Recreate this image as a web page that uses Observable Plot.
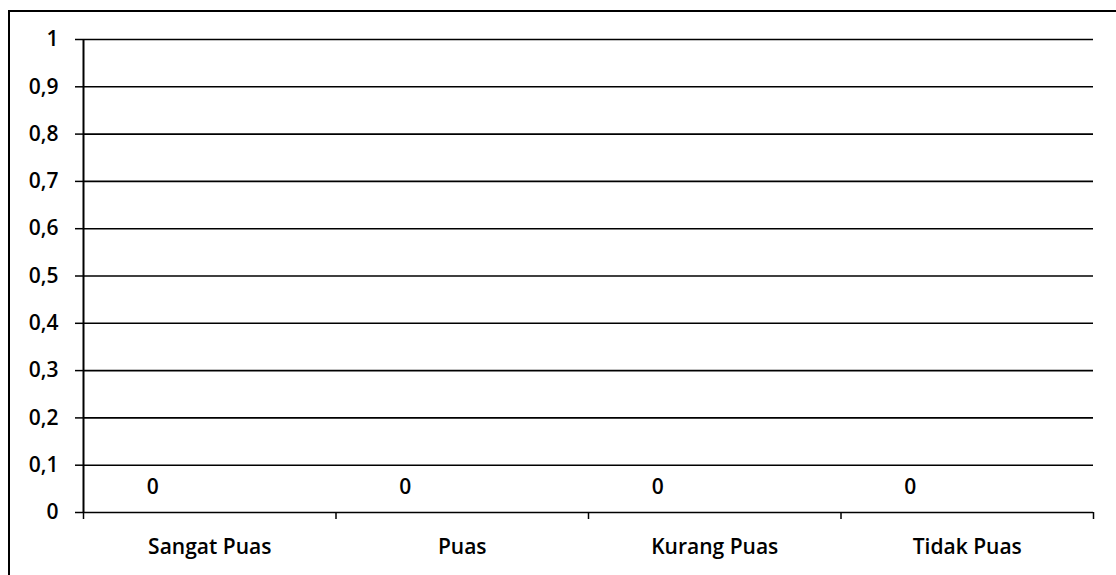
<!DOCTYPE html>
<html>
<head>
<meta charset="utf-8">
<script src="https://cdn.jsdelivr.net/npm/d3@7"></script>
<script src="https://cdn.jsdelivr.net/npm/@observablehq/plot@0.6"></script>
<style>
  html, body { margin: 0; padding: 0; background: #fff; overflow: hidden; }
  #wrap { position: relative; width: 1116px; height: 575px; }
  #border { position: absolute; left: 8px; top: 10px; width: 1130px; height: 600px;
            border: 2px solid #000; box-sizing: border-box; pointer-events: none; }
</style>
</head>
<body>
<div id="wrap"><div id="border"></div></div>
<script>
const categories = ["Sangat Puas", "Puas", "Kurang Puas", "Tidak Puas"];
const values = [0, 0, 0, 0];
const yTicks = [0, 0.1, 0.2, 0.3, 0.4, 0.5, 0.6, 0.7, 0.8, 0.9, 1];

const data = categories.map((c, i) => ({ category: c, pos: i + 0.5, value: values[i] }));
const boundaries = d3.range(categories.length + 1);
const fmt = d => String(+d.toFixed(1)).replace(".", ",");

const font = "'Open Sans', sans-serif";

const chart = Plot.plot({
  width: 1116,
  height: 575,
  marginLeft: 83,
  marginRight: 23,
  marginTop: 39,
  marginBottom: 63,
  style: { fontFamily: font, fontSize: "21px", color: "#000", background: "transparent" },
  x: { type: "linear", domain: [0, categories.length] },
  y: { domain: [0, 1] },
  marks: [
    Plot.ruleY(yTicks, { stroke: "#000", strokeWidth: 1.6 }),
    Plot.ruleX([0], { stroke: "#000", strokeWidth: 2 }),
    Plot.rectY(data, { x1: d => d.pos - 0.2, x2: d => d.pos + 0.2, y1: 0, y2: "value", fill: "#4f81bd" }),
    Plot.axisY({ ticks: yTicks, tickSize: 8, tickPadding: 17, tickFormat: fmt, label: null,
                 stroke: "#000", strokeWidth: 1.5, fontSize: 21, fontWeight: 600 }),
    Plot.axisX({ ticks: boundaries, tickSize: 7, tickFormat: () => "", label: null,
                 stroke: "#000", strokeWidth: 1.5 }),
    Plot.text(data, { x: "pos", y: 0, text: "category", dy: 35, fontSize: 21, fontWeight: 600 }),
    Plot.text(data, { x: "pos", y: "value", text: d => String(d.value), dx: -57, dy: -25, fontSize: 21, fontWeight: 600 })
  ]
});
document.getElementById("wrap").prepend(chart);
</script>
</body>
</html>
